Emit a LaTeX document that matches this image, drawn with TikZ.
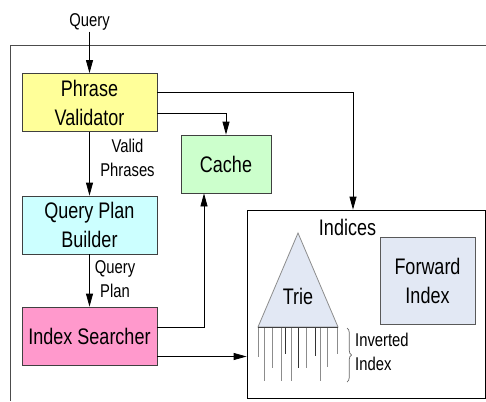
\documentclass[tikz,border=0pt]{standalone}
\usepackage{fontspec}
\setmainfont[FakeStretch=0.8]{Liberation Sans}
\usepackage{xcolor}
\usetikzlibrary{arrows.meta, decorations.pathreplacing, calc}
\definecolor{validyellow}{HTML}{FFFF99}
\definecolor{plancyan}{HTML}{CCFFFF}
\definecolor{cachegreen}{HTML}{CCFFCC}
\definecolor{searchpink}{HTML}{FF99CC}
\definecolor{indexblue}{HTML}{E2E8F4}
\tikzset{stagebox/.style={draw=black!75, line width=0.8pt, minimum width=135pt, minimum height=58pt, align=center, inner sep=0pt, font=\fontsize{22.5}{29}\selectfont},
flowarrow/.style={-{Triangle[length=13pt,width=7pt]}, draw=black, line width=0.8pt},
%small texts next to the arrows
smalllabel/.style={align=center, inner sep=1pt, font=\fontsize{18.5}{23.5}\selectfont}}

\begin{document}
\begin{tikzpicture}[x=1pt,y=-1pt]
 \useasboundingbox (0,0) rectangle (486,401);
 %Drawing Outer Frame
 \draw[black!70, line width=0.8pt] (486,45) -- (10,45) -- (10,401);

 %Drawing Stages
 \node[stagebox, fill=validyellow] (validator) at (89.5,102.5) {Phrase\\Validator};
 \node[stagebox, fill=plancyan] (builder) at (89.5,225) {Query Plan\\Builder};
 \node[stagebox, fill=searchpink] (searcher) at (89.5,336) {Index Searcher};
 \node[stagebox, fill=cachegreen, minimum width=90pt] (cache) at (226,164) {Cache};

 %Drawing Indices
 \node[draw=black, line width=0.8pt, minimum width=238pt, minimum height=188pt, inner sep=0pt] (indices) at (366,304) {};
 \node[font=\fontsize{22.5}{29}\selectfont] (indiceslabel) at (347.5,227) {Indices};
 \node[stagebox, fill=indexblue, draw=black!65, minimum width=95pt, minimum height=87pt] (forward) at (427.5,280.5) {Forward\\Index};

 %Drawing Trie and Inverted Index
 \draw[black!45, line width=0.8pt, fill=indexblue] (298,233) -- (338,327) -- (258,327) -- cycle;
 \node[font=\fontsize{22.5}{29}\selectfont] (trielabel) at (298,296) {Trie};
 \foreach \x/\y/\c in {258.3/357/black!45, 264/381/black!45, 272.7/368/black!45, 281/381/black!45,
   285.7/354/black!80, 291.7/381/black!45, 298.7/368/black!80, 306.7/368/black!45,
   315.3/356/black!80, 320/381/black!45, 327.7/367/black!45, 337.3/354/black!45}
  \draw[\c, line width=0.9pt] (\x,327) -- (\x,\y);
 \draw[black!75, line width=0.8pt] (258,327) -- (338,327);
 \draw[decorate, decoration={brace, amplitude=4.5pt}, black!60, line width=0.7pt] (347,328) -- (347,382);
 \node[smalllabel, align=left, anchor=west] (invlabel) at (354,352) {Inverted\\Index};

 %Drawing Arrows and labels
 \node[smalllabel] (query) at (89.5,22) {Query};
 \draw[flowarrow] (query) -- (validator);
 \draw[flowarrow] (validator) -- (builder);
 \draw[flowarrow] (builder) -- (searcher);
 \node[smalllabel] (validlabel) at (127.5,158) {Valid\\Phrases};
 \node[smalllabel] (planlabel) at (115,279) {Query\\Plan};
 \draw[flowarrow] ([yshift=-10.5pt]validator.east) -| (cache.north);
 \draw[flowarrow] ([yshift=10.5pt]validator.east) -| ([xshift=-13pt]indices.north);
 \draw[flowarrow] ([yshift=9pt]searcher.east) -| ([xshift=-22pt]cache.south);
 \draw[flowarrow] ([yshift=-20.5pt]searcher.east) -- ([yshift=-20.5pt]searcher.east -| indices.west);

\end{tikzpicture}
\end{document}
